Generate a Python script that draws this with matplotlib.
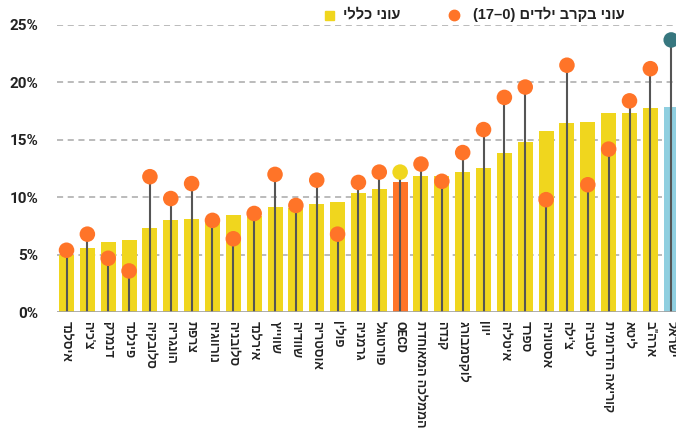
import matplotlib
matplotlib.use("Agg")
import matplotlib.pyplot as plt
from matplotlib.lines import Line2D

countries = ["איסלנד", "צ'כיה", "דנמרק", "פינלנד", "סלובקיה", "הונגריה", "צרפת",
             "נורווגיה", "סלובניה", "אירלנד", "שווייץ", "שוודיה", "אוסטריה", "פולין",
             "גרמניה", "פורטוגל", "OECD", "הממלכה המאוחדת", "קנדה", "לוקסמבורג", "יוון",
             "איטליה", "ספרד", "אסטוניה", "צ'ילה", "לטביה", "קוריאה הדרומית", "ליטא",
             'ארה"ב', "ישראל"]
overall = [5.0, 5.6, 6.1, 6.3, 7.3, 8.0, 8.1, 7.9, 8.5, 8.4, 9.2, 9.1, 9.4, 9.6,
           10.4, 10.7, 11.3, 11.9, 11.9, 12.2, 12.6, 13.9, 14.8, 15.8, 16.5, 16.6,
           17.3, 17.3, 17.8, 17.9]
children = [5.4, 6.8, 4.7, 3.6, 11.8, 9.9, 11.2, 8.0, 6.4, 8.6, 12.0, 9.3, 11.5, 6.8,
            11.3, 12.2, 12.2, 12.9, 11.4, 13.9, 15.9, 18.7, 19.6, 9.8, 21.5, 11.1,
            14.2, 18.4, 21.2, 23.7]
yticks = [0, 5, 10, 15, 20, 25]
legend_children = "(17–0) " + "עוני בקרב ילדים"[::-1]
legend_overall = "עוני כללי"[::-1]


def visual(s):
    # matplotlib has no bidi support: reverse Hebrew strings for display
    if any('\u0590' <= ch <= '\u05FF' for ch in s):
        return s[::-1]
    return s


YELLOW = "#F0D61E"
ORANGE = "#FF7428"
BLUE = "#8FCFE0"
TEAL = "#37777F"

plt.rcParams['font.family'] = ['Roboto', 'Liberation Sans', 'DejaVu Sans']

W, H = 676, 429
fig = plt.figure(figsize=(W / 100, H / 100), dpi=100)
ax = fig.add_axes([57 / W, (H - 312.3) / H, 1 - 57 / W, (312.3 - 25) / H])

n = len(countries)
xs = list(range(n))
bar_colors = []
dot_colors = []
for c in countries:
    if c == "OECD":
        bar_colors.append(ORANGE); dot_colors.append(YELLOW)
    elif c == "ישראל":
        bar_colors.append(BLUE); dot_colors.append(TEAL)
    else:
        bar_colors.append(YELLOW); dot_colors.append(ORANGE)

for y in yticks[1:]:
    ax.axhline(y, color="#A8A8A8", lw=1.1, dashes=(4, 3), zorder=0)
ax.axhline(0, color="#A0A0A0", lw=1.2, zorder=3)

ax.bar(xs, overall, width=0.72, color=bar_colors, zorder=1)
ax.vlines(xs, 0, children, color="#555555", lw=1.5, zorder=2)
ax.scatter(xs, children, s=125, color=dot_colors, zorder=4, linewidths=0, clip_on=False)

ax.set_xlim(-0.456, 29.23)
ax.set_ylim(0, 25)
ax.set_yticks(yticks)
ax.set_yticklabels([f"{t}%" for t in yticks], fontsize=11, fontweight="bold", color="#222222")
ax.set_xticks(xs)
ax.set_xticklabels([visual(c) for c in countries], rotation=-90, ha="center", va="top",
                   fontsize=9, fontweight="bold", color="#222222")
ax.tick_params(axis="both", length=0)
ax.tick_params(axis="y", pad=13.5)
ax.tick_params(axis="x", pad=6)
for s in ax.spines.values():
    s.set_visible(False)

# legend
fig.text(400 / W, 1 - 14 / H, legend_overall, ha="right", va="center", fontsize=10.5,
         fontweight="bold", color="#222222", family=['Liberation Sans', 'DejaVu Sans'])
fig.add_artist(plt.Rectangle((325 / W, 1 - 19.5 / H), 9 / W, 9 / H,
                             transform=fig.transFigure, color=YELLOW))
fig.text(625 / W, 1 - 14 / H, legend_children, ha="right", va="center", fontsize=10.5,
         fontweight="bold", color="#222222", family=['Liberation Sans', 'DejaVu Sans'])
fig.add_artist(Line2D([454 / W], [1 - 15 / H], marker="o", markersize=7.5, color=ORANGE,
                      transform=fig.transFigure, linestyle="none"))

fig.savefig("out.png", dpi=100)
